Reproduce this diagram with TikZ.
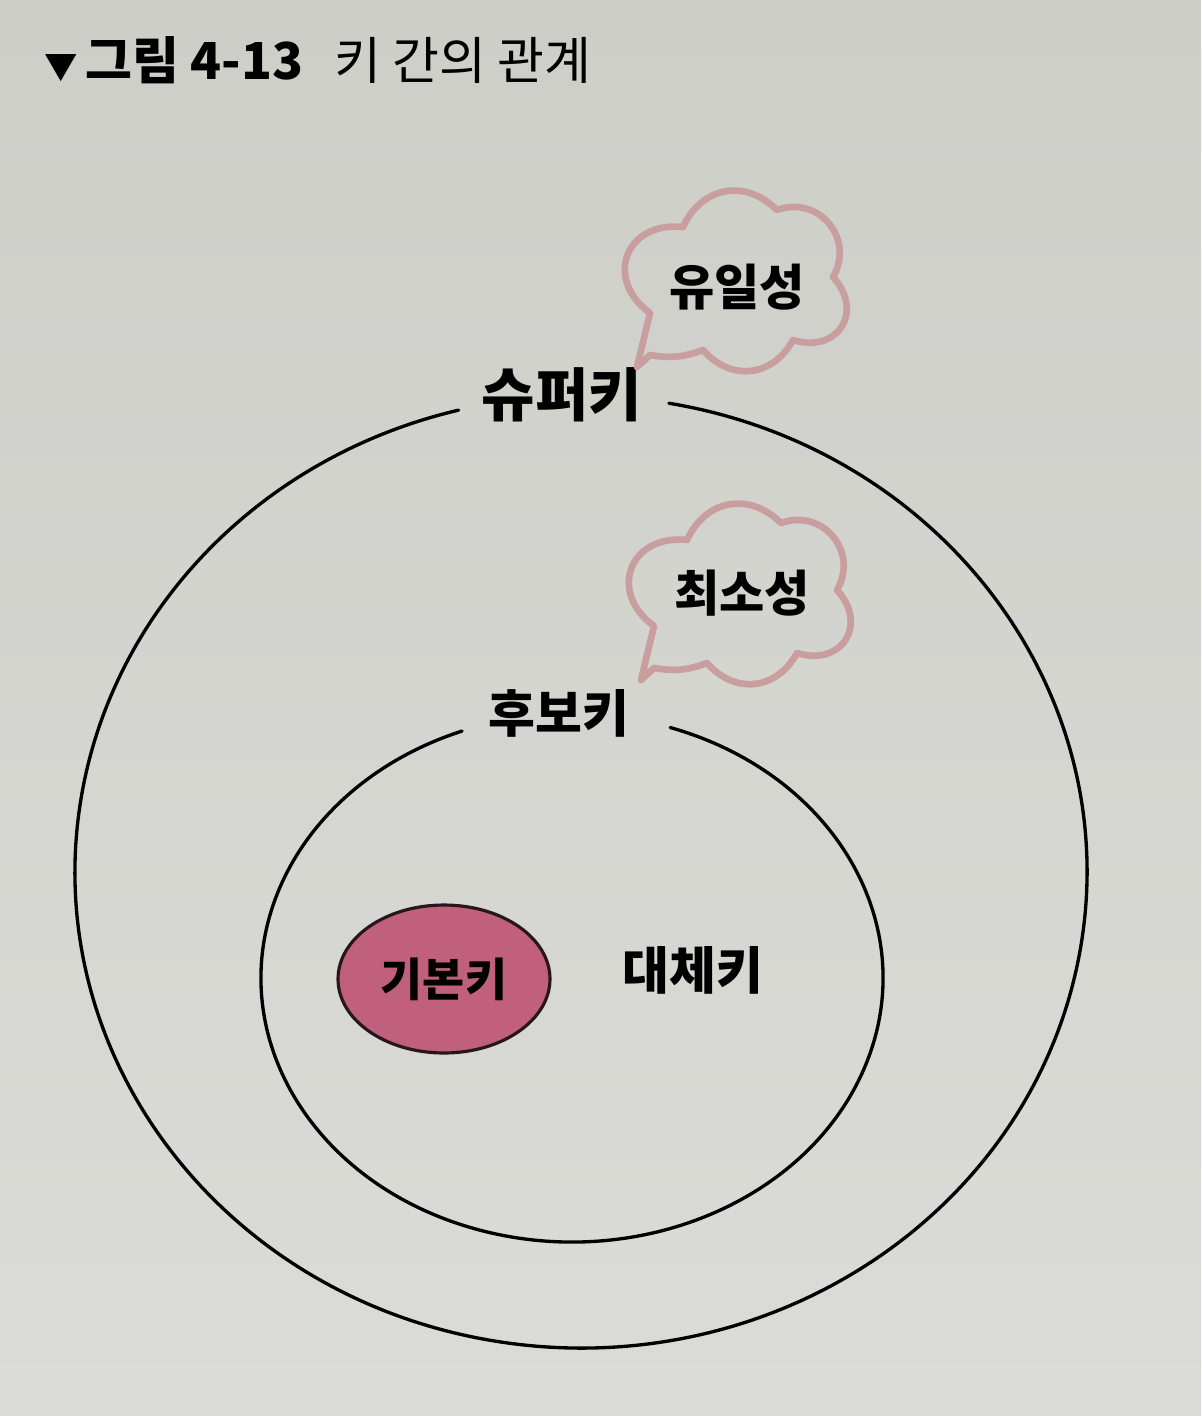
\documentclass[tikz,border=0pt]{standalone}
\usepackage{fontspec}
\newfontfamily\krfont{Noto Sans CJK KR}
\usetikzlibrary{positioning,shapes.geometric}

\definecolor{papertop}{RGB}{205,206,200}
\definecolor{paperbot}{RGB}{219,220,215}
\definecolor{bubbleline}{RGB}{200,158,158}
\definecolor{pkfill}{RGB}{192,96,124}
\definecolor{pkline}{RGB}{40,22,30}

\tikzset{
    keyline/.style={line width=1.9pt, black, line cap=round},
    biglabel/.style={font=\krfont\bfseries\fontsize{33}{38}\selectfont, inner sep=0pt},
    keylabel/.style={font=\krfont\bfseries\fontsize{29}{34}\selectfont, inner sep=0pt},
    bubbletext/.style={font=\krfont\bfseries\fontsize{28}{32}\selectfont, inner sep=0pt},
    titlebold/.style={font=\krfont\bfseries\fontsize{29}{33}\selectfont, inner sep=0pt},
    titletext/.style={font=\krfont\fontsize{29}{33}\selectfont, inner sep=0pt},
    pkey/.style={ellipse, draw=pkline, line width=1.8pt, fill=pkfill,
        minimum width=4.24cm, minimum height=2.96cm, inner sep=0pt,
        font=\krfont\bfseries\fontsize{26}{30}\selectfont},
    bubble/.style={line width=3.8pt, bubbleline, line join=round},
    pics/cloud/.style={code={
        \draw[bubble] (-103,82) -- (-90,28)
            to[bend left=75, looseness=1.6] (-57,-58)
            to[bend left=55, looseness=1.2] (37,-75)
            to[bend left=70, looseness=1.3] (93,-8)
            to[bend left=75, looseness=1.6] (53,55)
            to[bend left=55, looseness=1.2] (-37,65)
            to[bend left=15] (-90,70) -- cycle;
    }}
}

\begin{document}
\begin{tikzpicture}[x=0.02cm, y=-0.02cm]
    % paper
    \shade[top color=papertop, bottom color=paperbot] (0,0) rectangle (1201,1416);

    % title
    \node[titlebold, anchor=west] (fig) at (44,60) {{\fontsize{19}{22}\selectfont ▼}\hspace{0.15em}그림 4-13};
    \node[titletext, right=0.6cm of fig] (figname) {키 간의 관계};

    % key sets
    \coordinate (outer) at (581,872);
    \coordinate (inner) at (572,978);
    \draw[keyline] (outer) ++(280:506 and 476) arc[start angle=280, end angle=616, x radius=506, y radius=476];
    \draw[keyline] (inner) ++(288.4:311 and 264) arc[start angle=288.4, end angle=609.3, x radius=311, y radius=264];

    \node[biglabel] (super) at (562,395) {슈퍼키};
    \node[keylabel] (cand) at (559,713) {후보키};
    \node[pkey] (prim) at (444,979) {기본키};
    \node[keylabel] (alt) at (693,970) {대체키};

    % bubbles
    \pic at (740,285) {cloud};
    \node[bubbletext] (uniq) at (737,287) {유일성};
    \pic at (744,598) {cloud};
    \node[bubbletext] (minim) at (742,593) {최소성};
\end{tikzpicture}
\end{document}
